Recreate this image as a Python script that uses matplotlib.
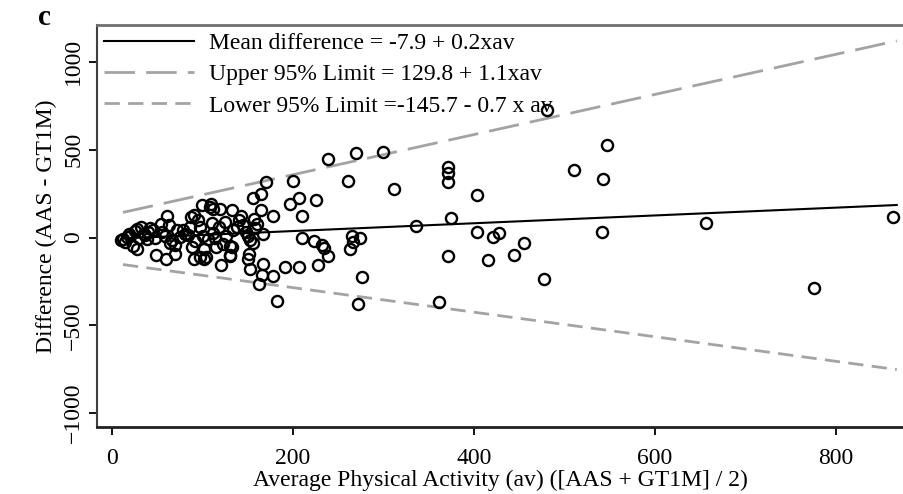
import matplotlib
matplotlib.use('Agg')
import matplotlib.pyplot as plt
import numpy as np

# data
av = [863, 776, 656, 547, 542, 541, 480, 510, 299, 312, 371, 371, 371, 403, 374, 336,
      403, 421, 428, 455, 444, 415, 371, 477, 361, 239, 270, 170, 200, 261, 156, 165,
      207, 225, 197, 210, 178, 165, 157, 133, 142, 119, 99, 109, 111, 108, 167, 150,
      152, 156, 151, 150, 167, 152, 166, 178, 162, 191, 207, 182, 210, 223, 232, 234,
      239, 228, 265, 274, 266, 263, 276, 272, 120, 130, 132, 123, 102, 134, 61, 54,
      63, 87, 95, 86, 97, 32, 19, 12, 10, 23, 27, 49, 60, 69, 91, 97, 104, 88,
      102, 115, 130, 130, 75, 66, 40, 45, 35, 28, 16, 72, 80, 110, 118, 125, 140, 145,
      55, 38, 30, 20, 14, 70, 84, 92, 100, 106, 112, 25, 42, 58, 78, 64, 47, 36,
      114, 126, 138, 90, 148, 158, 160]
diff = [116, -289, 80, 525, 331, 29, 724, 386, 487, 278, 401, 367, 316, 243, 112, 63,
        34, 2, 27, -30, -97, -127, -108, -236, -369, 445, 481, 316, 321, 321, 226, 249,
        226, 211, 188, 125, 125, 154, 107, 154, 122, 164, 183, 188, 165, 175, 21, 6,
        -17, -32, -93, -122, -150, -179, -211, -217, -264, -169, -169, -363, -2, -21, -40, -59,
        -108, -154, 11, -2, -27, -64, -226, -378, -156, -97, -55, -36, -122, 40, 125, 78,
        74, 116, 97, 59, 59, 59, 21, -7, -17, -46, -64, -97, -122, -93, -122, -112, -112, -55,
        -64, -55, -46, -103, 2, -13, 30, 45, 20, 50, 5, 40, 20, 80, 60, 90, 100, 70,
        30, -10, 0, 10, -25, -40, 15, -20, 10, -10, 25, 35, 55, 10, 40, -30, -5, 15,
        -5, 10, 60, 130, 30, 55, 75]

# regression lines (end points, from the picture / legend)
line_x = [12, 867]
mean_y = [-5, 185]
upper_y = [143, 1120]
lower_y = [-154, -752]

labels = ['Mean difference = -7.9 + 0.2xav',
          'Upper 95% Limit = 129.8 + 1.1xav',
          'Lower 95% Limit =-145.7 - 0.7 x av']

plt.rcParams['font.family'] = ['Liberation Serif', 'DejaVu Serif']

fig = plt.figure(figsize=(9.04, 4.94), dpi=100)
ax = fig.add_axes([0.107, 0.136, 0.893, 0.813])

ax.plot(line_x, mean_y, color='black', lw=1.5, label=labels[0])
ax.plot(line_x, upper_y, color='#a3a3a3', lw=2, dashes=(11, 4), label=labels[1])
ax.plot(line_x, lower_y, color='#a3a3a3', lw=2, dashes=(5.5, 3), label=labels[2])

ax.plot(av, diff, 'o', mfc='none', mec='black', ms=8, mew=1.7, ls='none')

ax.set_xlim(-17, 875)
ax.set_ylim(-1078, 1209)
ax.set_xticks([0, 200, 400, 600, 800])
ax.set_yticks([-1000, -500, 0, 500, 1000])
ax.tick_params(axis='both', direction='out', length=6, width=1.3, labelsize=17)
ax.tick_params(axis='x', pad=9)
ax.tick_params(axis='y', pad=3)
for lab in ax.get_yticklabels():
	lab.set_rotation(90)
	lab.set_va('center')

ax.spines['right'].set_visible(False)
ax.spines['top'].set_color('#707070')
ax.spines['top'].set_linewidth(2)
ax.spines['left'].set_color('#404040')
ax.spines['left'].set_linewidth(1.5)
ax.spines['bottom'].set_color('#202020')
ax.spines['bottom'].set_linewidth(2)

ax.set_xlabel('Average Physical Activity (av) ([AAS + GT1M] / 2)', fontsize=17, labelpad=1)
ax.set_ylabel('Difference (AAS - GT1M)', fontsize=17)
ax.yaxis.set_label_coords(-0.049, 0.5)

ax.legend(loc='upper left', frameon=False, fontsize=17, handlelength=3.8,
	handletextpad=0.65, labelspacing=0.42, borderaxespad=0.1, borderpad=0.2)

fig.text(0.042, 0.965, 'c', fontsize=21, fontweight='bold', ha='left', va='center')

plt.savefig('out.png', dpi=100)
plt.close()
